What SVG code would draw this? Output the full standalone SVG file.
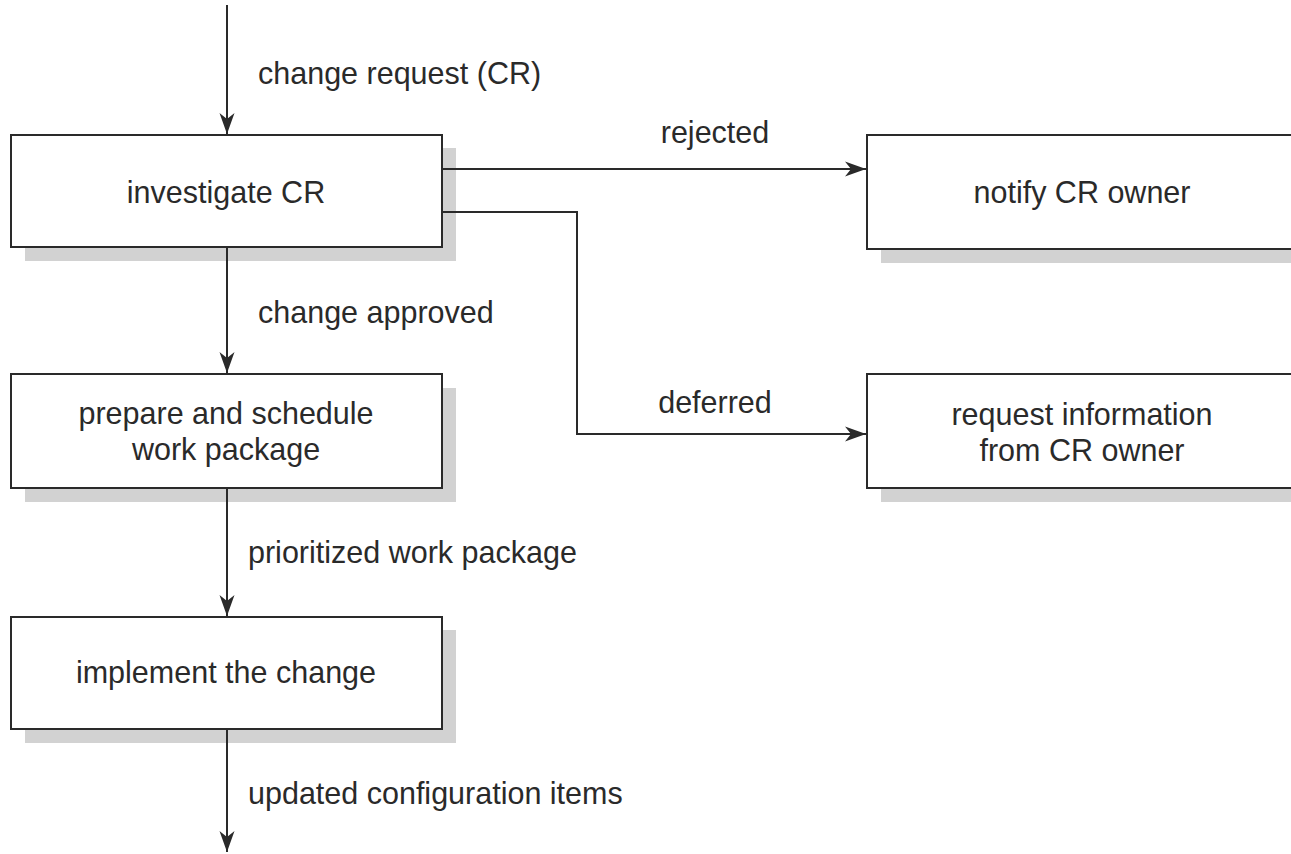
<svg xmlns="http://www.w3.org/2000/svg" width="1291" height="854" viewBox="0 0 1291 854">
<style>
.shadow{fill:#d2d2d2;stroke:none}
.box{fill:#fff;stroke:#2a2a2a;stroke-width:2}
.t{font-family:"Liberation Sans",Arial,Helvetica,sans-serif;font-size:30.5px;fill:#2a2a2a}
.c{text-anchor:middle}
.edge{fill:none;stroke:#2a2a2a;stroke-width:2}
</style>
<defs>
<marker id="ah" markerWidth="24" markerHeight="18" refX="21" refY="9" orient="auto" markerUnits="userSpaceOnUse">
<path d="M0,1.5 L21,9 L0,16.5 L6,9 Z" fill="#2a2a2a"/>
</marker>
</defs>
<rect width="1291" height="854" fill="#fff"/>
<g id="investigate">
<rect class="shadow" x="25" y="148" width="431" height="113"/>
<rect class="box" x="11" y="135" width="431" height="112"/>
<text class="t c" x="226" y="203">investigate CR</text>
</g>
<g id="prepare">
<rect class="shadow" x="25" y="388" width="431" height="114"/>
<rect class="box" x="11" y="374" width="431" height="114"/>
<text class="t c" x="226" y="424">prepare and schedule</text>
<text class="t c" x="226" y="460">work package</text>
</g>
<g id="implement">
<rect class="shadow" x="25" y="630" width="431" height="113"/>
<rect class="box" x="11" y="617" width="431" height="112"/>
<text class="t c" x="226" y="683">implement the change</text>
</g>
<g id="notify">
<rect class="shadow" x="881" y="149" width="431" height="114"/>
<rect class="box" x="867" y="135" width="431" height="114"/>
<text class="t c" x="1082" y="203">notify CR owner</text>
</g>
<g id="request">
<rect class="shadow" x="881" y="388" width="431" height="114"/>
<rect class="box" x="867" y="374" width="431" height="114"/>
<text class="t c" x="1082" y="425">request information</text>
<text class="t c" x="1082" y="461">from CR owner</text>
</g>
<g id="connectors">
<line class="edge" x1="227" y1="5" x2="227" y2="134" marker-end="url(#ah)"/>
<line class="edge" x1="227" y1="248" x2="227" y2="373" marker-end="url(#ah)"/>
<line class="edge" x1="227" y1="489" x2="227" y2="616" marker-end="url(#ah)"/>
<line class="edge" x1="227" y1="730" x2="227" y2="852" marker-end="url(#ah)"/>
<line class="edge" x1="443" y1="169" x2="866" y2="169" marker-end="url(#ah)"/>
<polyline class="edge" points="443,212 577,212 577,434 866,434" marker-end="url(#ah)"/>
<text class="t" x="258" y="84">change request (CR)</text>
<text class="t" x="258" y="323">change approved</text>
<text class="t" x="248" y="563">prioritized work package</text>
<text class="t" x="248" y="804">updated configuration items</text>
<text class="t c" x="715" y="143">rejected</text>
<text class="t c" x="715" y="413">deferred</text>
</g>
</svg>
